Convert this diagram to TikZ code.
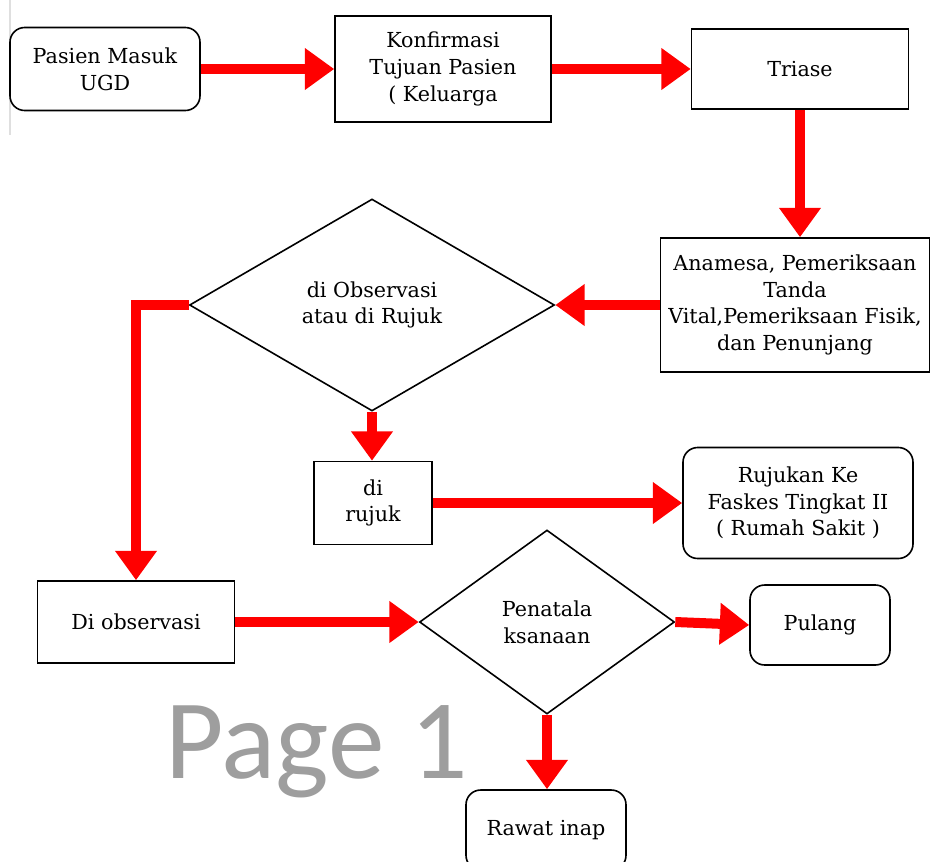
\documentclass[tikz,border=0pt]{standalone}
\usepackage{fontspec}
\setmainfont{DejaVu Serif}
\newfontfamily\pagefont{Carlito}
\usetikzlibrary{arrows.meta, shapes.geometric}

\begin{document}
\begin{tikzpicture}[x=0.75pt, y=-0.75pt,
    box/.style={rectangle, draw, line width=1.2pt, align=center, font=\fontsize{15.5}{20}\selectfont},
    rbox/.style={box, rounded corners=11pt},
    choice/.style={diamond, draw, line width=1.2pt, align=center, inner sep=0pt, font=\fontsize{15.5}{20}\selectfont},
    flow/.style={red, line width=7.5pt, line join=miter, -{Triangle[length=22pt, width=30pt]}}]
    \useasboundingbox (0,0) rectangle (931,861);

    % Draw page edge
    \draw[gray!25, line width=0.8pt] (10,0) -- (10,135);

    % Draw top row
    \node[rbox, minimum width=142.5pt, minimum height=62.25pt] (masuk) at (105,69) {Pasien Masuk\\UGD};
    \node[box, minimum width=162pt, minimum height=79.5pt] (konfirmasi) at (443,69) {Konfirmasi\\Tujuan Pasien\\( Keluarga};
    \node[box, minimum width=162.75pt, minimum height=60pt] (triase) at (800,69) {Triase};

    % Draw examination and first decision
    \node[box, minimum width=201.75pt, minimum height=100.5pt] (anamesa) at (795,305) {Anamesa, Pemeriksaan\\Tanda\\Vital,Pemeriksaan Fisik,\\dan Penunjang};
    \node[choice, minimum width=273.75pt, minimum height=159pt] (obsrujuk) at (372,305) {di Observasi\\atau di Rujuk};

    % Draw referral branch
    \node[box, minimum width=88.5pt, minimum height=62.25pt] (rujuk) at (373,503) {di\\rujuk};
    \node[rbox, minimum width=172.5pt, minimum height=83.25pt] (rujukan) at (798,503) {Rujukan Ke\\Faskes Tingkat II\\( Rumah Sakit )};

    % Draw observation branch
    \node[box, minimum width=147.75pt, minimum height=61.5pt] (observasi) at (136,622) {Di observasi};
    \node[choice, minimum width=191.25pt, minimum height=138pt] (penatalaksanaan) at (547,622) {Penatala\\ksanaan};
    \node[rbox, minimum width=105pt, minimum height=60pt] (pulang) at (820,625) {Pulang};
    \node[rbox, minimum width=120pt, minimum height=60pt] (rawat) at (546,830) {Rawat inap};

    % Draw watermark
    \node[anchor=base west, inner sep=0pt, text=black!38, font=\pagefont\fontsize{85}{85}\selectfont] (halaman) at (165,778) {Page 1};

    % Draw red flow arrows
    \draw[flow] (masuk) -- (konfirmasi);
    \draw[flow] (konfirmasi) -- (triase);
    \draw[flow] (triase.south) -- (triase.south |- anamesa.north);
    \draw[flow] (anamesa.west) -- (obsrujuk.east);
    \draw[flow] (obsrujuk.west) -| (observasi.north);
    \draw[flow] (obsrujuk.south) -- (obsrujuk.south |- rujuk.north);
    \draw[flow] (rujuk.east) -- (rujukan.west);
    \draw[flow] (observasi.east) -- (penatalaksanaan.west);
    \draw[flow] (penatalaksanaan.east) -- (pulang.west);
    \draw[flow] (penatalaksanaan.south) -- (penatalaksanaan.south |- rawat.north);
\end{tikzpicture}
\end{document}
